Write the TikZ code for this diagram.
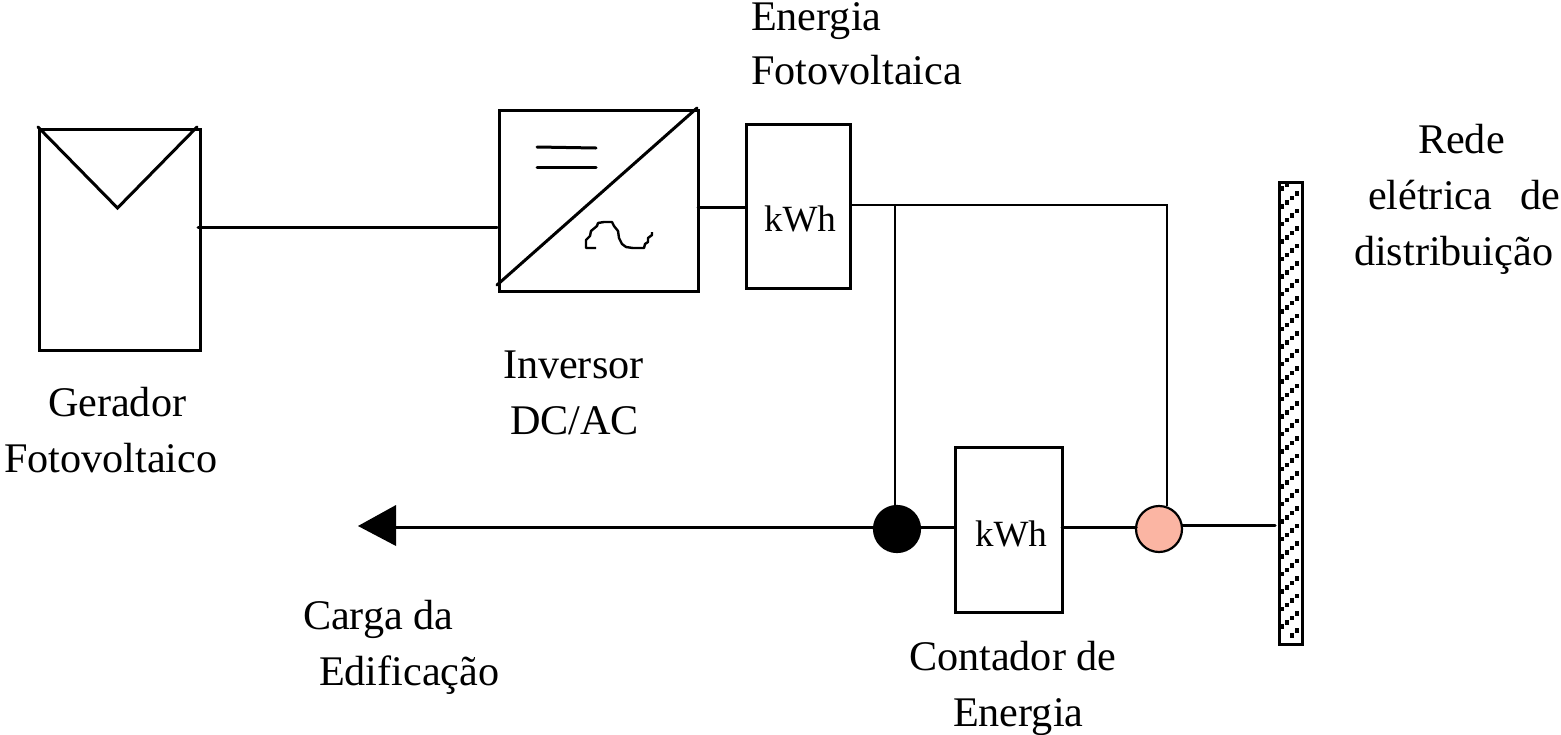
\documentclass[tikz,border=0pt]{standalone}
\usepackage{fontspec}
\setmainfont{Liberation Serif}
\definecolor{salmon}{HTML}{FBB5A3}
\tikzset{
  wire/.style={line width=1.5pt,line cap=round,line join=miter},
  thin wire/.style={line width=1.2pt},
  boxed/.style={draw,line width=1.5pt,rectangle,inner sep=0pt,outer sep=0pt},
  dot/.style={circle,draw,line width=1.1pt,inner sep=0pt,outer sep=0pt,minimum size=23pt},
  lbl/.style={anchor=base west,inner sep=0pt,outer sep=0pt,font=\fontsize{21.1}{21.1}\selectfont},
  meter/.style={anchor=base west,inner sep=0pt,outer sep=0pt,font=\fontsize{18.5}{18.5}\selectfont},
}
\begin{document}
\begin{tikzpicture}[x=0.5pt,y=-0.5pt]
\useasboundingbox[fill=white] (0,0) rectangle (1561,734);
% boxes
\node[boxed,minimum width=80.5pt,minimum height=110.5pt] (pv) at (119.5,239.5) {};
\node[boxed,minimum width=99.5pt,minimum height=90.5pt] (inv) at (598.5,200.5) {};
\node[boxed,minimum width=52pt,minimum height=82pt] (m1) at (798,206) {};
\node[boxed,minimum width=53.5pt,minimum height=82.5pt] (m2) at (1008.5,529.5) {};
\node[dot,fill=black] (d1) at (897,529) {};
\node[dot,fill=salmon] (d2) at (1159,529) {};
\node[boxed,minimum width=11.5pt,minimum height=231pt] (bar) at (1290.5,413) {};
% bar pattern
\begin{scope}
\clip (bar.south west) rectangle (bar.north east);
\foreach \k in {0,...,24}{
  \pgfmathsetmacro{\yy}{174+17.5*\k}
  \fill (1294.5,\yy+17) rectangle ++(4.5,4.5);
  \fill (1289.5,\yy+21.5) rectangle ++(4.5,4.5);
  \fill (1284.5,\yy+26) rectangle ++(4.5,4.5);
  \fill (1279,\yy+30) rectangle ++(4.5,4.5);
}
\fill (1294.5,628) rectangle ++(4.5,4.5);
\fill (1289.5,633) rectangle ++(4.5,4.5);
\fill (1284.5,182) rectangle ++(4.5,4.5);
\fill (1279,186) rectangle ++(4.5,4.5);
\end{scope}
\draw[boxed,fill=none] (bar.south west) rectangle (bar.north east);
% PV symbol
\coordinate (pvl) at (38,127);
\coordinate (pvv) at (117.5,208);
\coordinate (pvr) at (197,127);
\draw[wire] (pvl) -- (pvv) -- (pvr);
% inverter symbol
\coordinate (invl) at (497,285);
\coordinate (invr) at (697,108);
\draw[wire] (invl) -- (invr);
\coordinate (dcA) at (537,147); \coordinate (dcB) at (596,148);
\coordinate (dcC) at (537,167); \coordinate (dcD) at (596,167);
\draw[wire] (dcA) -- (dcB);
\draw[wire] (dcC) -- (dcD);
\draw[line width=1.2pt,line join=round] (596,248) -- (586,248) -- (586,240) -- (590,236) -- (591,231) -- (597,226) -- (598,223) -- (604,222) -- (612,222) -- (614,226) -- (618,231) -- (619,238) -- (621,242) -- (622,244) -- (626,247) -- (633,248) -- (644,248) -- (645,244) -- (648,242) -- (648,238) -- (652,235) -- (652,232);
% connectors
\coordinate (wa) at (300,227);
\coordinate (wb) at (720,207);
\coordinate (wc) at (895,205);
\coordinate (wd) at (1167,205);
\coordinate (we) at (600,527);
\coordinate (wf) at (1230,525);
\draw[wire,shorten <=-1pt,shorten >=1pt] (pv.east |- wa) -- (inv.west |- wa);
\draw[wire] (inv.east |- wb) -- (m1.west |- wb);
\draw[thin wire] (m1.east |- wc) -- (wd) -- (wd |- d2.north);
\draw[thin wire] (wc) -- (wc |- d1.north);
\coordinate (tip) at (358,526);
\coordinate (tipT) at (396,505);
\coordinate (tipB) at (396,546);
\draw[wire] (tipT |- we) -- (d1.west |- we);
\fill (tip) -- (tipT) -- (tipB) -- cycle;
\draw[wire] (d1.east |- we) -- (m2.west |- we);
\draw[wire] (m2.east |- we) -- (d2.west |- we);
\draw[wire,shorten >=2pt] (d2.east |- wf) -- (bar.west |- wf);
% labels
\node[lbl] (t1) at (751,30) {Energia};
\node[lbl] (t2) at (751,84) {Fotovoltaica};
\node[lbl] (t3) at (1418,153) {Rede};
\node[lbl] (t4) at (1368,209) {elétrica\hspace{14pt}de};
\node[lbl] (t5) at (1354,265) {distribuição};
\node[lbl] (t6) at (503,378) {Inversor};
\node[lbl] (t7) at (510,434) {DC/AC};
\node[lbl] (t8) at (48,416) {Gerador};
\node[lbl] (t9) at (4,472) {Fotovoltaico};
\node[lbl] (t10) at (303,629) {Carga da};
\node[lbl] (t11) at (319,685) {Edificação};
\node[lbl] (t12) at (909,670) {Contador de};
\node[lbl] (t13) at (953,726) {Energia};
\node[meter] (k1) at (764,231) {kWh};
\node[meter] (k2) at (975,546) {kWh};
\end{tikzpicture}
\end{document}
